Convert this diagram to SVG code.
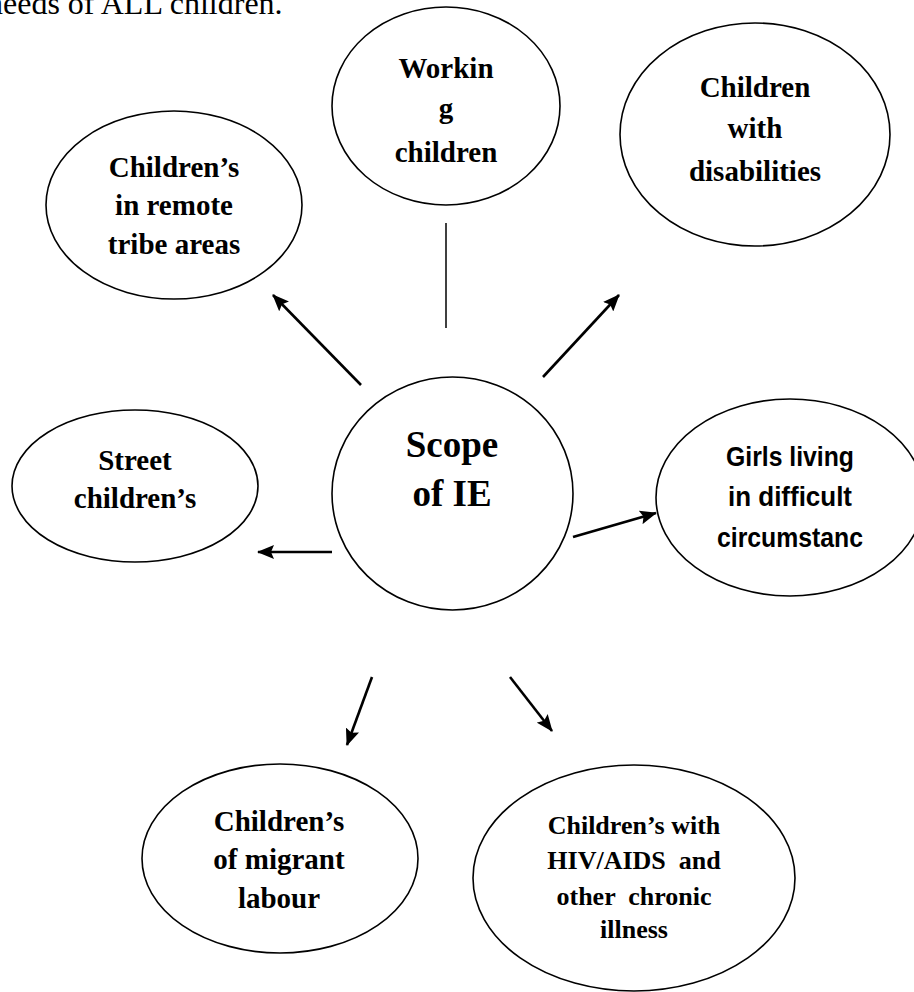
<svg xmlns="http://www.w3.org/2000/svg" width="914" height="992" viewBox="0 0 914 992">
<style>
.bg{fill:#fff}
.node ellipse{fill:#fff;stroke:#000;stroke-width:1.6}
.t{font-family:"Liberation Serif","Times New Roman",serif;font-weight:bold;font-size:29px;fill:#000;text-anchor:middle}
.ts{font-family:"Liberation Sans",Arial,sans-serif;font-weight:bold;font-size:27px;fill:#000;text-anchor:middle}
.big{font-size:37px}
.sm{font-size:26px}
.conn line{stroke:#000;stroke-width:2.6}
.conn line.plain{stroke-width:1.5}
.cap{font-family:"Liberation Serif","Times New Roman",serif;font-size:32px;fill:#000}
</style>
<defs>
<marker id="ah" viewBox="0 0 17 14" refX="16" refY="7" markerWidth="17" markerHeight="14" markerUnits="userSpaceOnUse" orient="auto">
<path d="M0,0 L17,7 L0,14 L3,7 z" fill="#000"/>
</marker>
</defs>
<rect class="bg" x="0" y="0" width="914" height="992"/>
<text class="cap" x="-13" y="14">needs of ALL children.</text>

<g id="connectors" class="conn">
<line x1="361" y1="385" x2="273" y2="295" marker-end="url(#ah)"/>
<line class="plain" x1="446" y1="223" x2="446" y2="328"/>
<line x1="543" y1="377" x2="619" y2="295" marker-end="url(#ah)"/>
<line x1="332" y1="552" x2="258" y2="552" marker-end="url(#ah)"/>
<line x1="573" y1="537" x2="656" y2="513" marker-end="url(#ah)"/>
<line x1="372" y1="677" x2="347" y2="745" marker-end="url(#ah)"/>
<line x1="510" y1="677" x2="552" y2="731" marker-end="url(#ah)"/>
</g>

<g id="node-tribe" class="node">
<ellipse cx="174" cy="205" rx="128" ry="94"/>
<text class="t" x="174" y="177">Children’s</text>
<text class="t" x="174" y="215">in remote</text>
<text class="t" x="174" y="254">tribe areas</text>
</g>

<g id="node-working" class="node">
<ellipse cx="446" cy="106" rx="114" ry="99"/>
<text class="t" x="446" y="78">Workin</text>
<text class="t" x="446" y="118">g</text>
<text class="t" x="446" y="162">children</text>
</g>

<g id="node-disabilities" class="node">
<ellipse cx="755" cy="134.5" rx="135" ry="111.5"/>
<text class="t" x="755" y="97">Children</text>
<text class="t" x="755" y="138">with</text>
<text class="t" x="755" y="181">disabilities</text>
</g>

<g id="node-street" class="node">
<ellipse cx="135" cy="486" rx="123" ry="76"/>
<text class="t" x="135" y="470">Street</text>
<text class="t" x="135" y="508">children’s</text>
</g>

<g id="node-scope" class="node">
<ellipse cx="452.5" cy="493.5" rx="120.5" ry="116.5"/>
<text class="t big" x="452" y="457">Scope</text>
<text class="t big" x="452" y="506">of IE</text>
</g>

<g id="node-girls" class="node">
<ellipse cx="790" cy="497.5" rx="134" ry="98.5"/>
<text class="ts" x="790" y="466" textLength="128" lengthAdjust="spacingAndGlyphs">Girls living</text>
<text class="ts" x="790" y="506" textLength="124" lengthAdjust="spacingAndGlyphs">in difficult</text>
<text class="ts" x="790" y="547" textLength="146" lengthAdjust="spacingAndGlyphs">circumstanc</text>
</g>

<g id="node-migrant" class="node">
<ellipse cx="280" cy="858.5" rx="138" ry="94.5"/>
<text class="t" x="279" y="831">Children’s</text>
<text class="t" x="279" y="869">of migrant</text>
<text class="t" x="279" y="908">labour</text>
</g>

<g id="node-hiv" class="node">
<ellipse cx="634" cy="878" rx="161" ry="113"/>
<text class="t sm" x="634" y="834">Children’s with</text>
<text class="t sm" x="634" y="869" xml:space="preserve">HIV/AIDS  and</text>
<text class="t sm" x="634" y="905" xml:space="preserve">other  chronic</text>
<text class="t sm" x="634" y="938">illness</text>
</g>
</svg>
